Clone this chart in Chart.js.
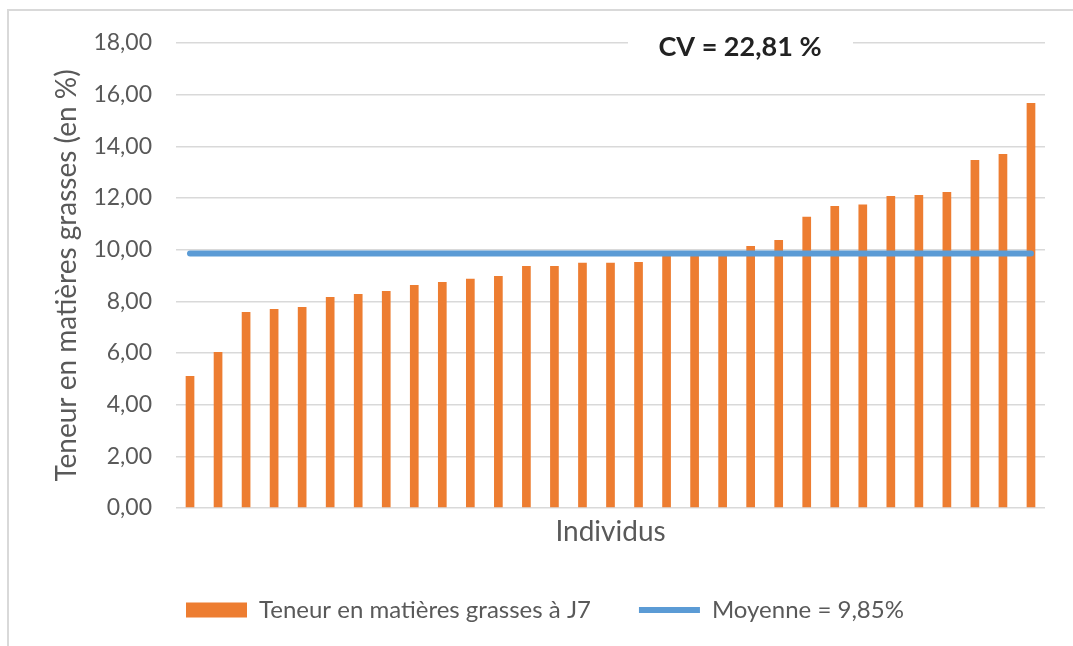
<!DOCTYPE html>
<html>
<head>
<meta charset="utf-8">
<script src="https://cdn.jsdelivr.net/npm/chart.js@4"></script>
<style>
  body { margin: 0; background: #fff; }
  #wrap { width: 1073px; height: 646px; }
</style>
</head>
<body>
<div id="wrap"><canvas id="myChart" width="1073" height="646"></canvas></div>
<script>
// individus (31), tries par teneur croissante
var individus = ["1","2","3","4","5","6","7","8","9","10","11","12","13","14","15","16",
    "17","18","19","20","21","22","23","24","25","26","27","28","29","30","31"];
var teneurJ7 = [5.11, 6.04, 7.59, 7.70, 7.78, 8.17, 8.28, 8.40, 8.63, 8.75, 8.87, 8.98,
    9.37, 9.37, 9.49, 9.49, 9.52, 9.78, 9.80, 9.82, 10.14, 10.37, 11.27, 11.69, 11.75,
    12.08, 12.12, 12.23, 13.47, 13.70, 15.68];
var moyenne = [9.85, 9.85, 9.85, 9.85, 9.85, 9.85, 9.85, 9.85, 9.85, 9.85, 9.85, 9.85,
    9.85, 9.85, 9.85, 9.85, 9.85, 9.85, 9.85, 9.85, 9.85, 9.85, 9.85, 9.85, 9.85,
    9.85, 9.85, 9.85, 9.85, 9.85, 9.85];
var cvText = "CV = 22,81 %";

var grey = "#595959";
var fontFam = "Lato, 'Open Sans', sans-serif";
var legPad = 48;
var legFont = 24;

var frame = {
    id: "frame",
    beforeDraw: function (chart) {
        var c = chart.ctx;
        c.save();
        c.fillStyle = "#fff";
        c.fillRect(0, 0, chart.width, chart.height);
        c.strokeStyle = "#d9d9d9";
        c.lineWidth = 2;
        c.beginPath();
        c.moveTo(8, chart.height);
        c.lineTo(8, 10);
        c.lineTo(chart.width, 10);
        c.stroke();
        c.restore();
    },
    afterLayout: function (chart) {
        // legende calee a gauche, comme dans Excel
        var lg = chart.legend;
        var w = lg.right - lg.left;
        lg.left = 186 - legPad;
        lg.right = lg.left + w;
        lg.top = 610 - legPad - legFont / 2;
    },
    afterDraw: function (chart) {
        var c = chart.ctx;
        c.save();
        c.fillStyle = "#fff";
        c.fillRect(628, 11, 225, 69);
        c.fillStyle = "#222";
        c.font = "bold 27px " + fontFam;
        c.textAlign = "center";
        c.textBaseline = "middle";
        c.fillText(cvText, 740, 47);
        c.restore();
    }
};

var ctx = document.getElementById("myChart");
var myChart = new Chart(ctx, {
    data: {
        labels: individus,
        datasets: [{
            type: "bar",
            label: "Teneur en matières grasses à J7",
            data: teneurJ7,
            backgroundColor: "#ED7D31",
            barPercentage: 0.31,
            categoryPercentage: 1,
            pointStyle: "rect",
            order: 1
        }, {
            type: "line",
            label: "Moyenne = 9,85%",
            data: moyenne,
            borderColor: "#5B9BD5",
            backgroundColor: "#5B9BD5",
            borderWidth: 6,
            borderCapStyle: "round",
            pointRadius: 0,
            pointStyle: "line",
            order: 0
        }]
    },
    options: {
        responsive: false,
        animation: false,
        layout: { padding: { left: 10, top: 43, right: 28, bottom: 14 } },
        plugins: {
            tooltip: { enabled: false },
            legend: {
                position: "bottom",
                align: "start",
                maxHeight: 43,
                labels: {
                    usePointStyle: true,
                    pointStyleWidth: 61,
                    boxHeight: 15,
                    color: grey,
                    padding: legPad,
                    font: { family: fontFam, size: legFont },
                    sort: function (a, b) { return a.datasetIndex - b.datasetIndex; }
                }
            }
        },
        scales: {
            x: {
                grid: { display: false },
                border: { display: false },
                ticks: { display: false },
                title: {
                    display: true,
                    text: "Individus",
                    color: grey,
                    font: { family: fontFam, size: 28 },
                    padding: { top: 0, bottom: 40 }
                },
                afterFit: function (scale) { scale.height = 81; }
            },
            y: {
                min: 0,
                max: 18,
                ticks: {
                    stepSize: 2,
                    color: grey,
                    padding: 24,
                    font: { family: fontFam, size: 23 },
                    callback: function (v) { return v.toFixed(2).replace(".", ","); }
                },
                grid: { color: "#d9d9d9", lineWidth: 1.5, drawTicks: false },
                border: { display: false },
                title: {
                    display: true,
                    text: "Teneur en matières grasses (en %)",
                    color: grey,
                    font: { family: fontFam, size: 28 },
                    padding: { top: 40, bottom: 0 }
                },
                afterFit: function (scale) { scale.width = 166; }
            }
        }
    },
    plugins: [frame]
});
</script>
</body>
</html>
